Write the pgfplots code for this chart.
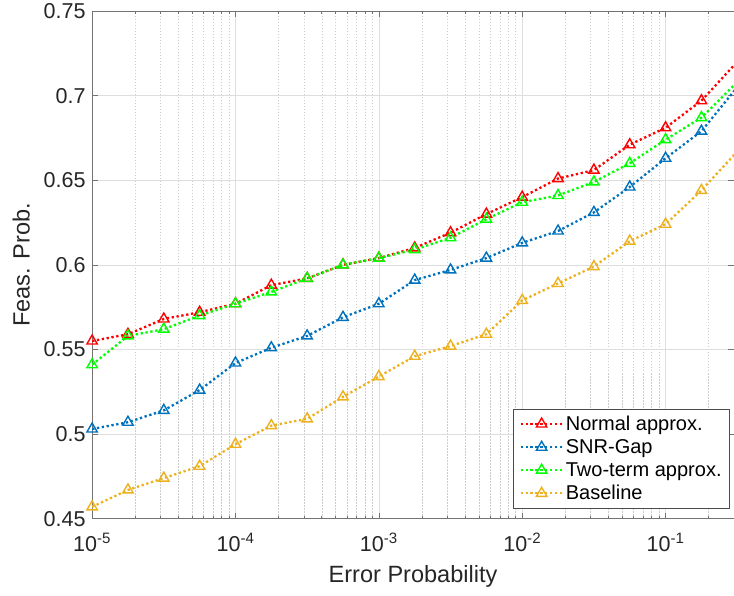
\documentclass[border=0pt]{standalone}
\usepackage{fontspec}
\setmainfont{Liberation Sans}
\usepackage{pgfplots}
\usepackage{pgfplotstable}
\pgfplotsset{compat=1.18}
\definecolor{mred}{rgb}{1,0,0}
\definecolor{mblue}{rgb}{0,0.447,0.741}
\definecolor{mgreen}{rgb}{0,1,0}
\definecolor{myellow}{rgb}{0.929,0.694,0.125}
\definecolor{axgray}{rgb}{0.45,0.45,0.45}

\pgfplotstableread{
x          normal snr   two   base
1e-5       0.555  0.503 0.541 0.457
1.7783e-5  0.559  0.507 0.558 0.467
3.1623e-5  0.568  0.514 0.562 0.474
5.6234e-5  0.572  0.526 0.570 0.481
1e-4       0.577  0.542 0.577 0.494
1.7783e-4  0.588  0.551 0.584 0.505
3.1623e-4  0.592  0.558 0.592 0.509
5.6234e-4  0.600  0.569 0.600 0.522
1e-3       0.604  0.577 0.604 0.534
1.7783e-3  0.610  0.591 0.609 0.546
3.1623e-3  0.619  0.597 0.616 0.552
5.6234e-3  0.630  0.604 0.627 0.559
1e-2       0.640  0.613 0.637 0.579
1.7783e-2  0.651  0.620 0.641 0.589
3.1623e-2  0.656  0.631 0.649 0.599
5.6234e-2  0.671  0.646 0.660 0.614
1e-1       0.681  0.663 0.674 0.624
1.7783e-1  0.697  0.679 0.687 0.644
3.1623e-1  0.720  0.705 0.708 0.667
}\data

\begin{document}
\begin{tikzpicture}
\begin{axis}[
  scale only axis,
  width=641pt, height=507pt,
  xmode=log, log basis x=10,
  xmin=1e-5, xmax=0.3,
  ymin=0.45, ymax=0.75,
  xtick={1e-5,1e-4,1e-3,1e-2,1e-1},
  xticklabels={10\textsuperscript{-5},10\textsuperscript{-4},10\textsuperscript{-3},10\textsuperscript{-2},10\textsuperscript{-1}},
  minor xtick={2e-5,3e-5,4e-5,5e-5,6e-5,7e-5,8e-5,9e-5,
               2e-4,3e-4,4e-4,5e-4,6e-4,7e-4,8e-4,9e-4,
               2e-3,3e-3,4e-3,5e-3,6e-3,7e-3,8e-3,9e-3,
               2e-2,3e-2,4e-2,5e-2,6e-2,7e-2,8e-2,9e-2,
               0.2,0.3},
  ytick={0.45,0.5,0.55,0.6,0.65,0.7,0.75},
  yticklabels={0.45,0.5,0.55,0.6,0.65,0.7,0.75},
  minor ytick={},
  xmajorgrids, xminorgrids, ymajorgrids,
  major grid style={draw=black!13, line width=0.7pt},
  minor grid style={draw=black!20, line width=0.6pt, dash pattern=on 1.5pt off 1.5pt},
  tick align=inside,
  major tick length=6pt,
  minor tick length=3pt,
  every tick/.style={draw=axgray, line width=0.7pt},
  axis line style={draw=axgray, line width=0.8pt},
  tick label style={font=\fontsize{21.5}{23}\selectfont, text=black!85},
  xticklabel style={yshift=-11pt},
  yticklabel style={xshift=-3pt},
  label style={font=\fontsize{23.5}{26}\selectfont, text=black!85},
  xlabel={Error Probability},
  ylabel={Feas. Prob.},
  xlabel style={yshift=-7pt},
  ylabel style={yshift=7pt},
  clip=true,
  legend style={at={(1,0)}, anchor=south east, xshift=-4pt, yshift=10pt,
    font=\fontsize{20}{22}\selectfont, draw=black!70, line width=0.7pt,
    row sep=3.5pt, inner xsep=6pt, inner ysep=5pt, cells={anchor=west}},
  legend cell align=left,
  legend image code/.code={
    \draw[mark repeat=2, mark phase=2] plot coordinates {(0pt,0pt) (21pt,0pt) (42pt,0pt)};
  },
  every axis plot/.append style={line width=2.3pt, dash pattern=on 2.3pt off 2.6pt,
    mark=triangle, mark size=6pt, mark options={solid, line width=1.4pt}},
]
\addplot[mred] table[x=x,y=normal] {\data};
\addlegendentry{Normal approx.}
\addplot[mblue] table[x=x,y=snr] {\data};
\addlegendentry{SNR-Gap}
\addplot[mgreen] table[x=x,y=two] {\data};
\addlegendentry{Two-term approx.}
\addplot[myellow] table[x=x,y=base] {\data};
\addlegendentry{Baseline}
\end{axis}
\pgfresetboundingbox
\path (current axis.south west) ++(-92pt,-77pt) coordinate (bbsw);
\path (current axis.north east) ++(0pt,11pt) coordinate (bbne);
\useasboundingbox (bbsw) rectangle (bbne);
\end{tikzpicture}
\end{document}
